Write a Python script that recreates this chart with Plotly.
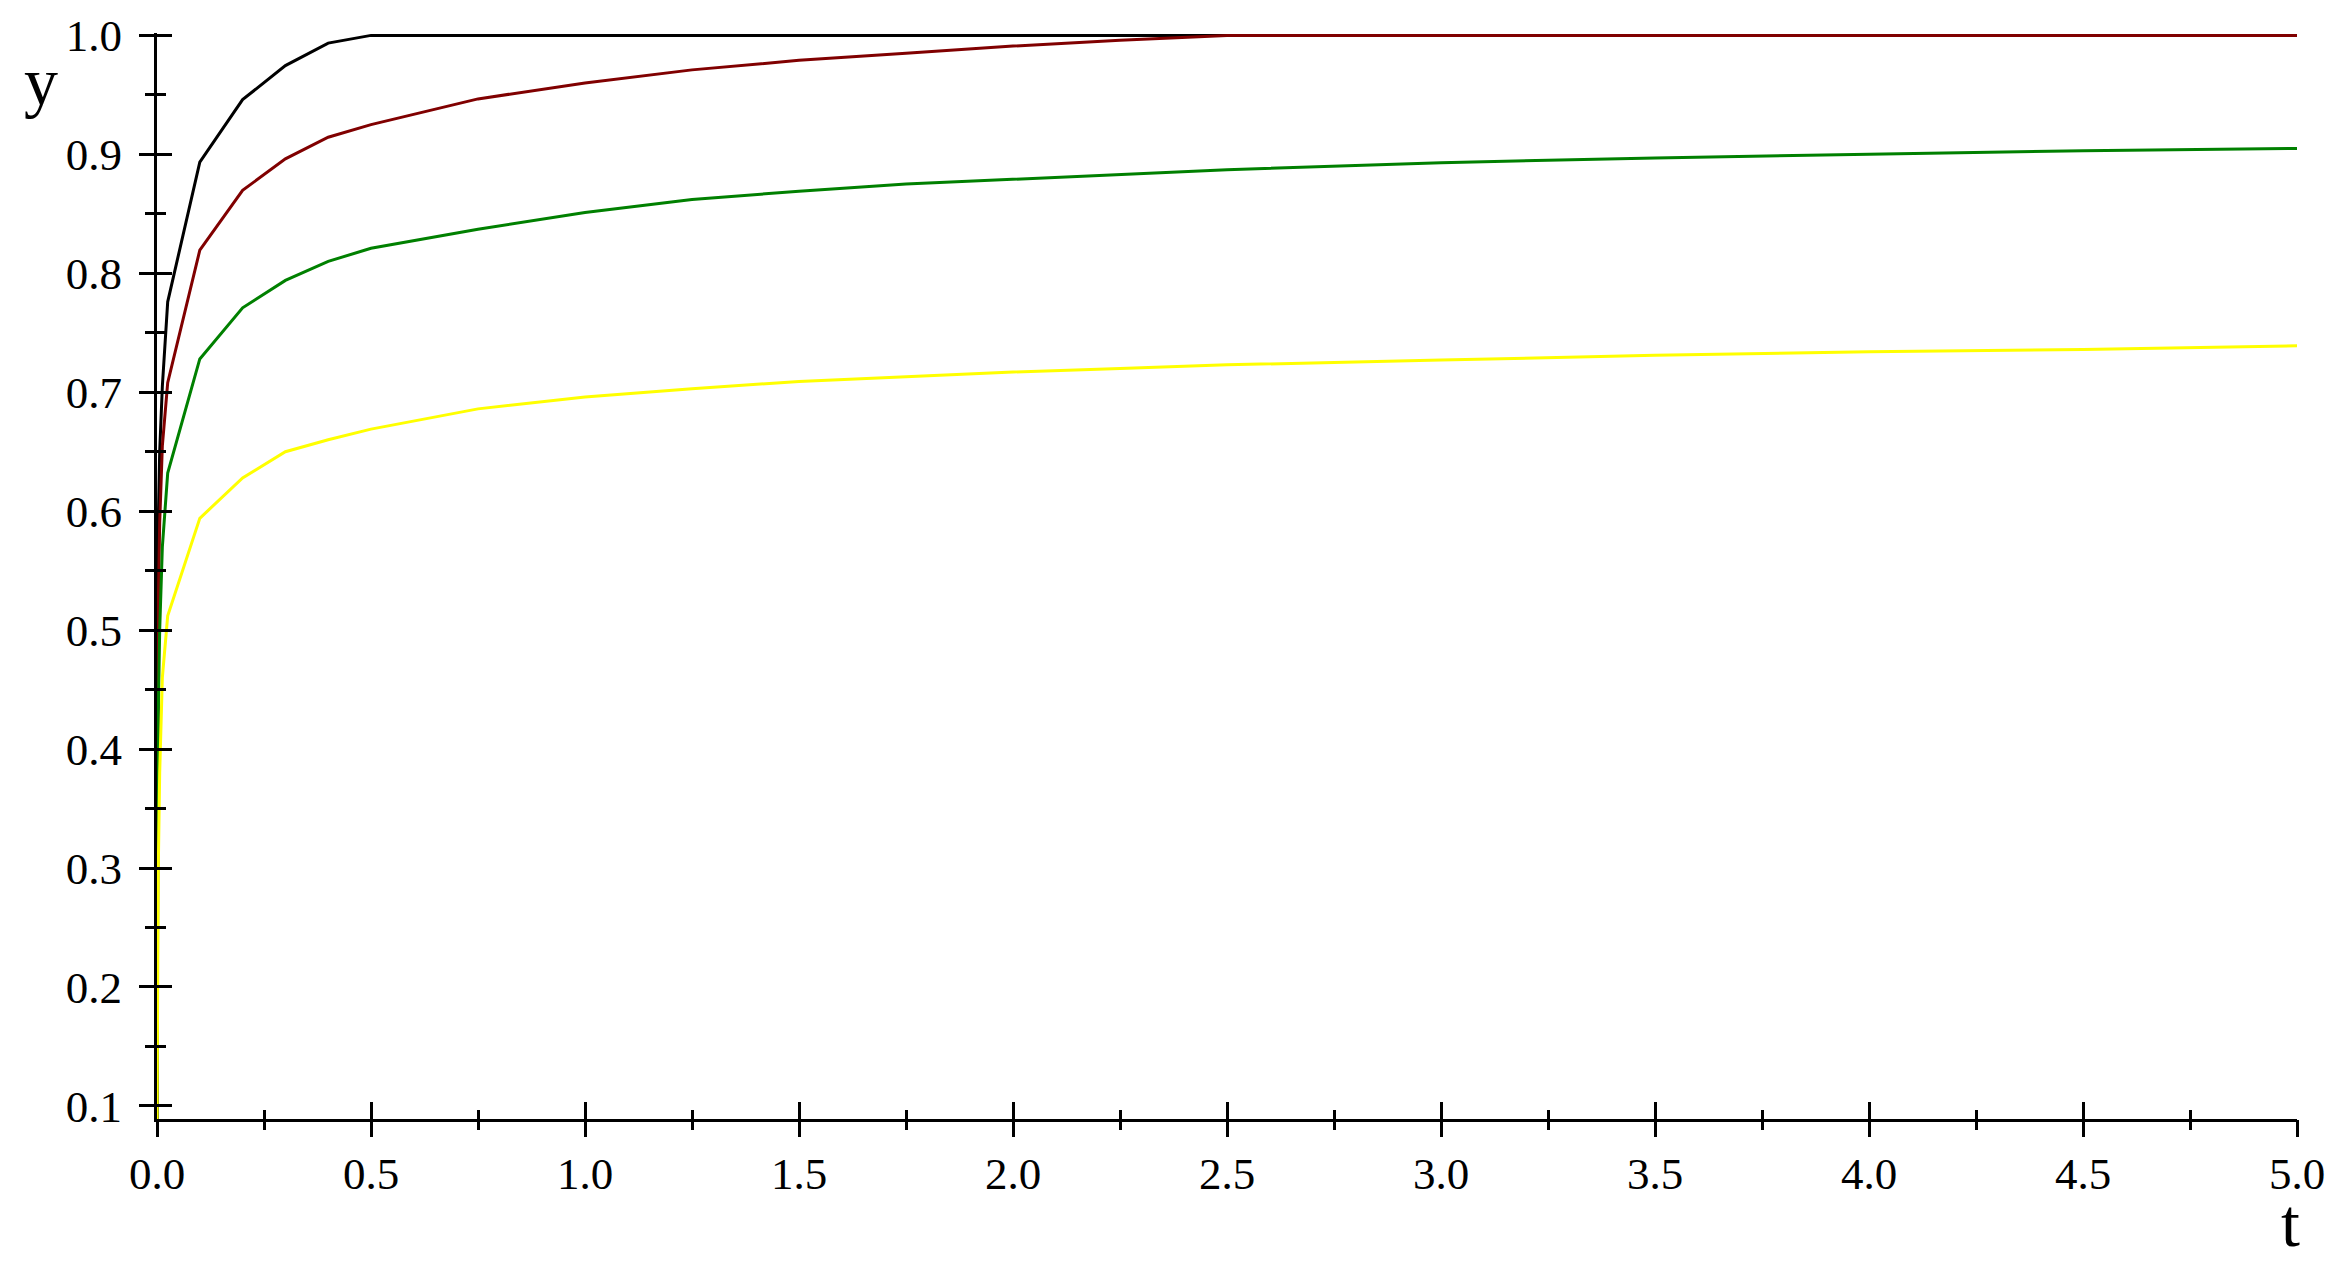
import plotly.graph_objects as go

# sample times (dense near 0, as in the original plot)
t = [0, 0.003, 0.00625, 0.0125, 0.025, 0.05, 0.1, 0.2, 0.3, 0.4, 0.5, 0.75,
     1.0, 1.25, 1.5, 1.75, 2.0, 2.25, 2.5, 3.0, 3.5, 4.0, 4.5, 5.0]

y_black = [0.089, 0.59, 0.65, 0.705, 0.776, 0.815, 0.8935, 0.946, 0.9746, 0.9935, 1.0, 1.0,
           1.0, 1.0, 1.0, 1.0, 1.0, 1.0, 1.0, 1.0, 1.0, 1.0, 1.0, 1.0]
y_brown = [0.089, 0.52, 0.59, 0.655, 0.708, 0.746, 0.8194, 0.8697, 0.8962, 0.9144, 0.925, 0.9466,
           0.960, 0.971, 0.979, 0.985, 0.991, 0.996, 1.0, 1.0, 1.0, 1.0, 1.0, 1.0]
y_green = [0.089, 0.43, 0.50, 0.57, 0.632, 0.664, 0.728, 0.771, 0.794, 0.810, 0.821, 0.837,
           0.851, 0.862, 0.869, 0.875, 0.879, 0.883, 0.887, 0.893, 0.897, 0.900, 0.903, 0.905]
y_yellow = [0.089, 0.30, 0.38, 0.46, 0.512, 0.540, 0.594, 0.628, 0.650, 0.660, 0.669, 0.686,
            0.696, 0.703, 0.709, 0.713, 0.717, 0.720, 0.723, 0.727, 0.731, 0.734, 0.736, 0.739]

series = [("black", y_black), ("#800000", y_brown), ("#008000", y_green), ("#ffff00", y_yellow)]

fig = go.Figure()
for col, ys in series:
    fig.add_trace(go.Scatter(x=t, y=ys, mode="lines", line=dict(color=col, width=3),
                             showlegend=False, hoverinfo="skip"))

# invisible copy on the overlaid axes so the other half of the ticks is drawn
fig.add_trace(go.Scatter(x=t, y=y_yellow, mode="lines", opacity=0, xaxis="x2", yaxis="y2",
                         showlegend=False, hoverinfo="skip"))

xr = [0, 5]
yr = [0.089, 1.002]
tickfont = dict(family="Liberation Serif", size=45, color="black")

ax_common = dict(showgrid=False, zeroline=False, linecolor="black", linewidth=3,
                 tickcolor="black", tickwidth=3, automargin=False)

# page body has an 8px margin, so the figure is 8px smaller than the window
fig.update_layout(
    width=2331, height=1265,
    margin=dict(l=149, r=42, t=25, b=154),
    plot_bgcolor="white", paper_bgcolor="white",
    xaxis=dict(range=xr, showline=True, ticks="inside", ticklen=17, tick0=0, dtick=0.5,
               tickformat=".1f", tickfont=tickfont, ticklabelstandoff=13,
               minor=dict(dtick=0.25, ticks="inside", ticklen=9, tickcolor="black", tickwidth=3),
               **ax_common),
    yaxis=dict(range=yr, showline=True, ticks="outside", ticklen=15, tick0=0.1, dtick=0.1,
               tickformat=".1f", tickfont=tickfont, ticklabelstandoff=8,
               minor=dict(dtick=0.05, ticks="outside", ticklen=9, tickcolor="black", tickwidth=3),
               **ax_common),
    xaxis2=dict(range=xr, overlaying="x", anchor="y2", showline=False, ticks="outside", ticklen=17,
                tick0=0, dtick=0.5, showticklabels=False,
                minor=dict(dtick=0.25, ticks="outside", ticklen=10, tickcolor="black", tickwidth=3),
                **ax_common),
    yaxis2=dict(range=yr, overlaying="y", anchor="x2", showline=False, ticks="inside", ticklen=15,
                tick0=0.1, dtick=0.1, showticklabels=False,
                minor=dict(dtick=0.05, ticks="inside", ticklen=9, tickcolor="black", tickwidth=3),
                **ax_common),
)

fig.add_annotation(text="y", xref="paper", yref="paper", x=-0.054, y=0.955,
                   xanchor="center", yanchor="middle", showarrow=False,
                   font=dict(family="Liberation Serif", size=68, color="black"))
fig.add_annotation(text="t", xref="paper", yref="paper", x=0.997, y=-0.096,
                   xanchor="center", yanchor="middle", showarrow=False,
                   font=dict(family="Liberation Serif", size=68, color="black"))

fig.write_html("out.html")
